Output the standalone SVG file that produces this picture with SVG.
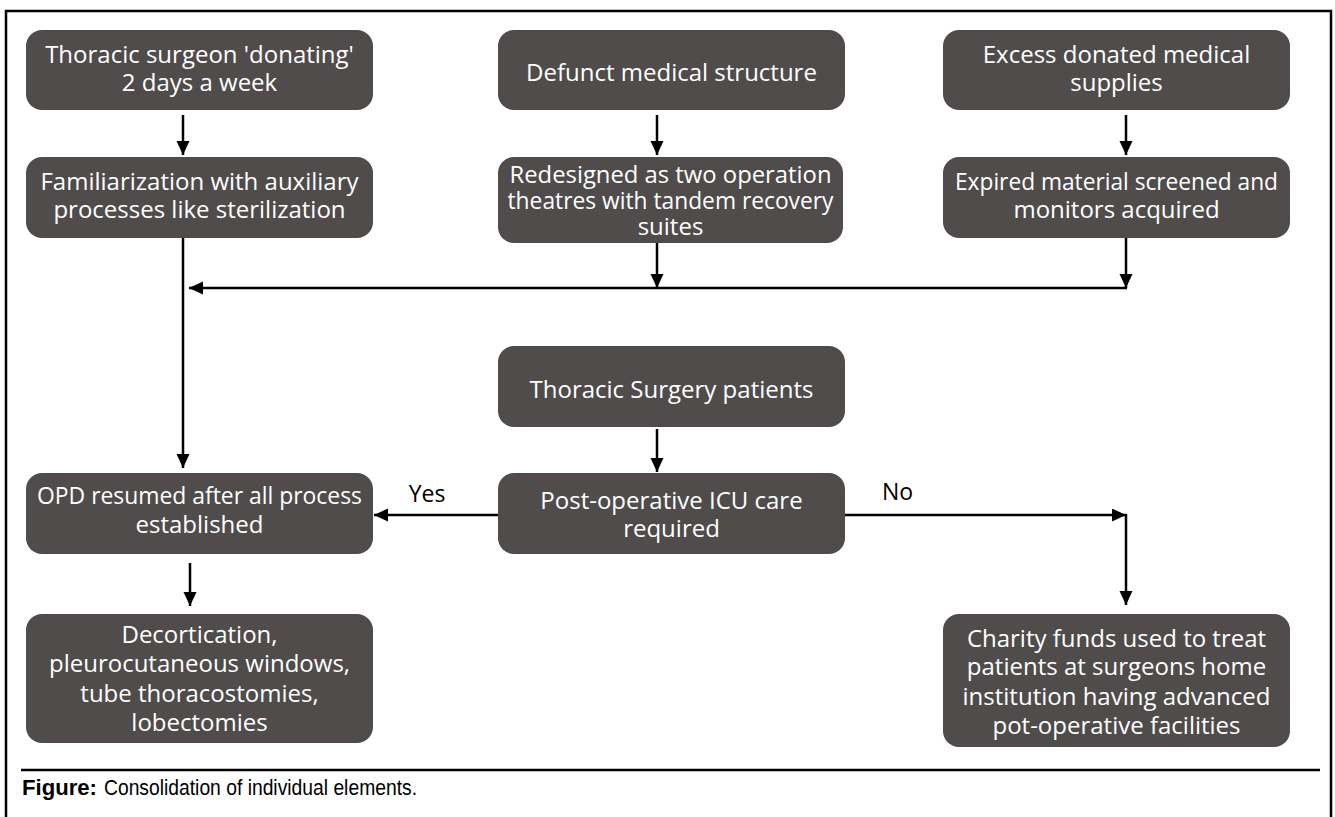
<svg xmlns="http://www.w3.org/2000/svg" width="1335" height="817" viewBox="0 0 1335 817">
<style>
.box{fill:#4f4c4b;}
.t{font-family:"Open Sans","Liberation Sans",sans-serif;font-size:24px;fill:#ffffff;text-anchor:middle;}
.lbl{font-family:"Open Sans","Liberation Sans",sans-serif;font-size:23px;fill:#000000;}
.c{stroke:#000;stroke-width:2.5;fill:none;}
.frame{stroke:#000;stroke-width:2.5;fill:none;}
.cap{font-family:"Liberation Sans",sans-serif;font-size:22px;fill:#000;}
</style>
<defs>
<marker id="ah" markerUnits="userSpaceOnUse" markerWidth="16" markerHeight="14" refX="14" refY="6.5" orient="auto">
<path d="M0,0 L14,6.5 L0,13 Z" fill="#000"/>
</marker>
</defs>
<rect width="1335" height="817" fill="#fff"/>
<g id="frame">
<path class="frame" d="M6,817 V11 H1331 V817"/>
<line class="frame" x1="21" y1="770" x2="1320" y2="770"/>
</g>
<g id="connectors">
<line class="c" x1="183" y1="115" x2="183" y2="155" marker-end="url(#ah)"/>
<line class="c" x1="657" y1="115" x2="657" y2="155" marker-end="url(#ah)"/>
<line class="c" x1="1126" y1="115" x2="1126" y2="155" marker-end="url(#ah)"/>
<line class="c" x1="183" y1="236" x2="183" y2="468" marker-end="url(#ah)"/>
<line class="c" x1="657" y1="243" x2="657" y2="288" marker-end="url(#ah)"/>
<line class="c" x1="1126" y1="238" x2="1126" y2="288" marker-end="url(#ah)"/>
<line class="c" x1="1127" y1="288" x2="189" y2="288" marker-end="url(#ah)"/>
<line class="c" x1="657" y1="429" x2="657" y2="472" marker-end="url(#ah)"/>
<line class="c" x1="498" y1="515" x2="374" y2="515" marker-end="url(#ah)"/>
<line class="c" x1="845" y1="515" x2="1126" y2="515" marker-end="url(#ah)"/>
<line class="c" x1="1126" y1="514" x2="1126" y2="605" marker-end="url(#ah)"/>
<line class="c" x1="190" y1="563" x2="190" y2="606" marker-end="url(#ah)"/>
<text class="lbl" x="427" y="502" text-anchor="middle">Yes</text>
<text class="lbl" x="882" y="500">No</text>
</g>
<g id="n1">
<rect class="box" x="26" y="30" width="347" height="80" rx="16"/>
<text class="t" x="199.5" y="63">Thoracic surgeon 'donating'</text>
<text class="t" x="199.5" y="91">2 days a week</text>
</g>
<g id="n2">
<rect class="box" x="498" y="30" width="347" height="80" rx="16"/>
<text class="t" x="671.5" y="81">Defunct medical structure</text>
</g>
<g id="n3">
<rect class="box" x="943" y="30" width="347" height="80" rx="16"/>
<text class="t" x="1116.5" y="63">Excess donated medical</text>
<text class="t" x="1116.5" y="91">supplies</text>
</g>
<g id="n4">
<rect class="box" x="26" y="157" width="347" height="81" rx="16"/>
<text class="t" x="199.5" y="190">Familiarization with auxiliary</text>
<text class="t" x="199.5" y="218">processes like sterilization</text>
</g>
<g id="n5">
<rect class="box" x="498" y="157" width="345" height="86" rx="16"/>
<text class="t" x="670.5" y="183" textLength="322" lengthAdjust="spacingAndGlyphs">Redesigned as two operation</text>
<text class="t" x="670.5" y="209" textLength="326" lengthAdjust="spacingAndGlyphs">theatres with tandem recovery</text>
<text class="t" x="670.5" y="235">suites</text>
</g>
<g id="n6">
<rect class="box" x="943" y="157" width="347" height="81" rx="16"/>
<text class="t" x="1116.5" y="190" textLength="323" lengthAdjust="spacingAndGlyphs">Expired material screened and</text>
<text class="t" x="1116.5" y="218">monitors acquired</text>
</g>
<g id="n7">
<rect class="box" x="498" y="346" width="347" height="81" rx="16"/>
<text class="t" x="671.5" y="398">Thoracic Surgery patients</text>
</g>
<g id="n8">
<rect class="box" x="498" y="473" width="347" height="81" rx="16"/>
<text class="t" x="671.5" y="509">Post-operative ICU care</text>
<text class="t" x="671.5" y="537">required</text>
</g>
<g id="n9">
<rect class="box" x="26" y="473" width="347" height="81" rx="16"/>
<text class="t" x="199.5" y="504" textLength="325" lengthAdjust="spacingAndGlyphs">OPD resumed after all process</text>
<text class="t" x="199.5" y="533">established</text>
</g>
<g id="n10">
<rect class="box" x="26" y="614" width="347" height="129" rx="16"/>
<text class="t" x="199.5" y="643">Decortication,</text>
<text class="t" x="199.5" y="672">pleurocutaneous windows,</text>
<text class="t" x="199.5" y="702">tube thoracostomies,</text>
<text class="t" x="199.5" y="731">lobectomies</text>
</g>
<g id="n11">
<rect class="box" x="943" y="614" width="347" height="133" rx="16"/>
<text class="t" x="1116.5" y="647">Charity funds used to treat</text>
<text class="t" x="1116.5" y="675">patients at surgeons home</text>
<text class="t" x="1116.5" y="705">institution having advanced</text>
<text class="t" x="1116.5" y="734">pot-operative facilities</text>
</g>
<g id="caption">
<text class="cap" x="22" y="795"><tspan font-weight="bold" textLength="75" lengthAdjust="spacingAndGlyphs">Figure:</tspan><tspan x="104" textLength="313" lengthAdjust="spacingAndGlyphs">Consolidation of individual elements.</tspan></text>
</g>
</svg>
